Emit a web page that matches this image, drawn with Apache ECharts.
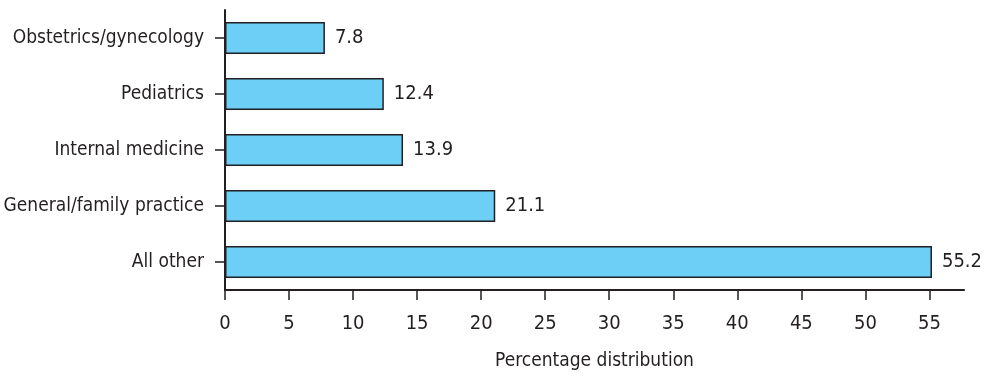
<!DOCTYPE html>
<html>
<head>
<meta charset="utf-8">
<script src="https://cdn.jsdelivr.net/npm/echarts@6/dist/echarts.min.js"></script>
<style>
html,body{margin:0;padding:0;background:#fff;}
#chart{width:984px;height:381px;}
</style>
</head>
<body>
<div id="chart"></div>
<script>
var categories = ["Obstetrics/gynecology", "Pediatrics", "Internal medicine", "General/family practice", "All other"];
var values = [7.8, 12.4, 13.9, 21.1, 55.2];
var xTicks = [0, 5, 10, 15, 20, 25, 30, 35, 40, 45, 50, 55];
var xMax = 57.7;
var xTitle = "Percentage distribution";

var FONT = '"Liberation Sans Narrow", "DejaVu Sans Condensed", sans-serif';
var TXT = '#231f20';
var chart = echarts.init(document.getElementById('chart'));
chart.setOption({
  animation: false,
  backgroundColor: '#ffffff',
  grid: { left: 225, right: 20, top: 10, bottom: 91, containLabel: false, outerBoundsMode: 'none' },
  xAxis: {
    type: 'value', min: 0, max: xMax,
    name: xTitle, nameLocation: 'middle', nameGap: 62,
    nameTextStyle: { fontFamily: FONT, fontSize: 19, color: TXT },
    axisLine: { show: true, lineStyle: { color: TXT, width: 2 } },
    axisTick: { show: true, length: 10, customValues: xTicks, lineStyle: { color: TXT, width: 1.5 } },
    axisLabel: { customValues: xTicks, margin: 24, fontFamily: FONT, fontSize: 20, color: TXT },
    splitLine: { show: false }
  },
  yAxis: {
    type: 'category', data: categories, inverse: true,
    axisLine: { show: true, lineStyle: { color: TXT, width: 2 } },
    axisTick: { show: true, length: 10, alignWithLabel: true, lineStyle: { color: TXT, width: 1.5 } },
    axisLabel: { margin: 21, fontFamily: FONT, fontSize: 19, color: TXT },
    splitLine: { show: false }
  },
  series: [{
    type: 'bar', data: values, barCategoryGap: '43%',
    itemStyle: { color: '#6dcff6', borderColor: '#231f20', borderWidth: 1.5 },
    label: { show: true, position: 'right', distance: 10, fontFamily: FONT, fontSize: 20, color: TXT,
      formatter: function (p) { return p.value.toFixed(1); } }
  }]
});
</script>
</body>
</html>
